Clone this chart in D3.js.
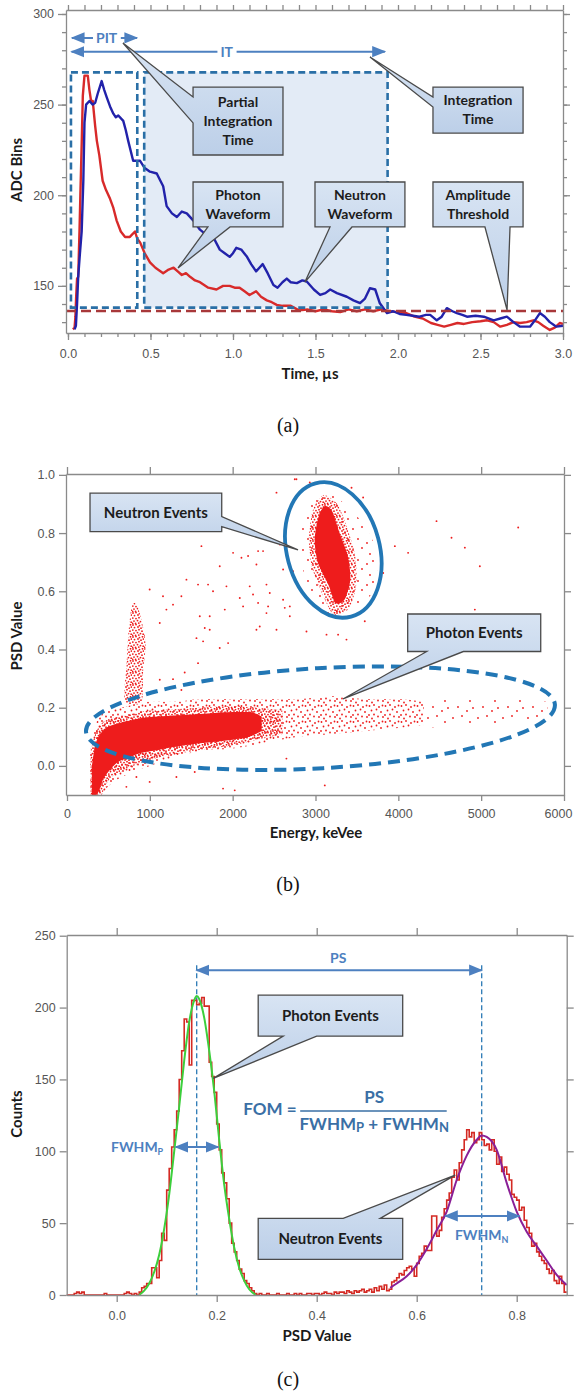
<!DOCTYPE html>
<html>
<head>
<meta charset="utf-8">
<script src="https://cdn.jsdelivr.net/npm/d3@7"></script>
<style>
  body { margin: 0; background: #fff; }
  svg { display: block; }
</style>
</head>
<body>
<svg id="chart" width="575" height="1396"></svg>
<script>
// ---------- (a) digitized waveforms ----------
const photonTime = [0.030,0.040,0.045,0.050,0.055,0.062,0.070,0.075,0.083,0.090,0.100,0.120,0.130,0.140,0.150,0.165,0.175,0.190,0.210,0.230,0.255,0.275,0.295,0.320,0.346,0.375,0.406,0.420,0.437,0.465,0.497,0.530,0.577,0.610,0.640,0.665,0.690,0.715,0.740,0.770,0.800,0.850,0.900,0.940,0.980,1.010,1.040,1.070,1.100,1.140,1.170,1.205,1.235,1.265,1.300,1.350,1.400,1.450,1.500,1.550,1.600,1.650,1.700,1.750,1.800,1.850,1.900,1.950,2.000,2.050,2.100,2.150,2.200,2.240,2.280,2.320,2.360,2.400,2.450,2.500,2.540,2.580,2.620,2.660,2.700,2.740,2.780,2.820,2.850,2.880,2.920,2.950,2.980,3.000];
const photonAdc  = [126,127,133,145,154,155,181,200,228,255,266,266,258,252,252,238,230,222,208,203,198,193,186,180,177,177,180,176,174,168,163,160,157,159,160,158,156,157,155,153,152,149,148,150,150,149,149,147,145,147,144,142,141,139.5,139,139,136.5,137,136,137,136,135.5,137,136,137,136,137,136,135.5,135,133,132,129.5,128.5,127.5,128.5,129.5,129,130,130.5,131,130,127.5,128.5,130,129.5,130,131,130,128,125.7,127,129.5,129];
const neutronTime = [0.040,0.048,0.055,0.062,0.070,0.083,0.093,0.100,0.110,0.130,0.150,0.165,0.180,0.204,0.220,0.235,0.255,0.275,0.290,0.305,0.335,0.350,0.365,0.395,0.420,0.437,0.465,0.497,0.538,0.560,0.577,0.598,0.630,0.660,0.690,0.720,0.760,0.800,0.840,0.880,0.920,0.950,0.980,1.000,1.020,1.050,1.085,1.110,1.140,1.160,1.180,1.210,1.245,1.270,1.300,1.326,1.350,1.387,1.420,1.447,1.490,1.528,1.560,1.589,1.630,1.690,1.730,1.770,1.800,1.830,1.862,1.890,1.933,1.970,2.010,2.050,2.090,2.130,2.170,2.195,2.235,2.265,2.296,2.330,2.357,2.390,2.418,2.470,2.520,2.580,2.620,2.660,2.700,2.740,2.800,2.830,2.860,2.890,2.920,2.960,3.000];
const neutronAdc  = [126,128,140,155,165,180,208,240,250,252,250,251,256,263,258,254,249,245,243,244,241,236,230,219,219,219,215,213,212,208,205,194,190,188,191,190,186,181,178,177,170,168,166,168,171,170,166,162,158,160,162,157,150.5,149,152,154,152,151.5,153,152.4,148,145,146,148,146,144,142,140.5,143,148.7,148,140.4,135,136,134.5,134,133.5,133,134,134,131,133,137.7,136,135,134,133,133.5,133,131,132,133,130,127.5,127.5,131,135,133,130,127.5,128];
const timeMajorTicks = [0, 0.5, 1.0, 1.5, 2.0, 2.5, 3.0];
const adcMajorTicks = [150, 200, 250, 300];

// ---------- (b) PSD vs energy scatter ----------
const energyTicks = [0, 1000, 2000, 3000, 4000, 5000, 6000];
const psdTicksB = [0.0, 0.2, 0.4, 0.6, 0.8, 1.0];
// photon band: outer envelope of scattered events, denser fringe, solid core
const bandEnergy = [280, 330, 400, 500, 650, 800, 1000, 1300, 1600, 2000, 2400, 2800, 3200, 3600, 4000, 4300];
const bandLow    = [-0.10, -0.10, -0.10, -0.07, -0.04, -0.02, 0.00, 0.03, 0.05, 0.06, 0.08, 0.10, 0.11, 0.12, 0.13, 0.14];
const bandHigh   = [0.04, 0.13, 0.17, 0.19, 0.20, 0.21, 0.22, 0.22, 0.23, 0.23, 0.23, 0.23, 0.24, 0.23, 0.23, 0.22];
const tailEnergy = [4300, 4800, 5300, 5800];
const tailLow    = [0.13, 0.14, 0.15, 0.17];
const tailHigh   = [0.23, 0.23, 0.23, 0.22];
const fringeEnergy = [285, 340, 400, 500, 650, 800, 1000, 1300, 1600, 2000, 2300, 2600];
const fringeLow    = [-0.10, -0.10, -0.10, -0.05, -0.02, 0.00, 0.02, 0.04, 0.055, 0.07, 0.09, 0.11];
const fringeHigh   = [0.05, 0.11, 0.14, 0.16, 0.17, 0.18, 0.19, 0.195, 0.20, 0.205, 0.20, 0.19];
const coreEnergy = [300, 340, 380, 430, 500, 600, 750, 900, 1100, 1400, 1700, 2000, 2200, 2350];
const coreLow    = [-0.10, -0.10, -0.09, -0.05, -0.02, 0.01, 0.03, 0.045, 0.055, 0.07, 0.08, 0.09, 0.10, 0.12];
const coreHigh   = [0.00, 0.07, 0.10, 0.12, 0.135, 0.145, 0.155, 0.165, 0.17, 0.175, 0.18, 0.185, 0.185, 0.17];
// low-energy vertical streak
const streakEnergy = [800, 850, 900, 950, 920, 900, 700, 720, 740, 770];
const streakPsd    = [0.56, 0.55, 0.50, 0.42, 0.33, 0.22, 0.22, 0.35, 0.45, 0.53];
// neutron cluster: dense core, speckled ring, sparse halo
const nCoreEnergy = [3112, 3200, 3290, 3390, 3420, 3350, 3240, 3160, 3030, 2990, 3040];
const nCorePsd    = [0.893, 0.876, 0.801, 0.721, 0.640, 0.571, 0.560, 0.620, 0.698, 0.778, 0.859];
const nRingEnergy = [3100, 3260, 3380, 3480, 3490, 3400, 3220, 3100, 2960, 2920, 2970];
const nRingPsd    = [0.93, 0.90, 0.82, 0.72, 0.62, 0.54, 0.52, 0.58, 0.68, 0.78, 0.88];
const nHaloEnergy = [3133, 3495, 3737, 3696, 3414, 3133, 2891, 2810, 2891];
const nHaloPsd    = [0.94, 0.86, 0.74, 0.60, 0.53, 0.52, 0.63, 0.77, 0.88];
// isolated events
const strayEnergy = [1623,1844,2005,2106,2186,2287,2307,2367,2408,2448,2529,2569,2609,2629,2729,2750,1442,1582,1703,1763,1925,2086,2206,2246,2307,2428,1603,1723,1905,2126,2287,1280,1381,1159,998,1200,1120,1723,1563,1643,1945,1663,1844,1582,1421,1120,1280,1381,2327,2408,2529,2690,2770,2931,3435,3575,4461,4642,4803,4984,5447,3958,4118,3817,3595,2891,3133,3273,3374,4924,2690,2609,1321,1884,2025,717,998,838,1542,3112,2649];
const strayPsd    = [0.755,0.686,0.732,0.715,0.721,0.692,0.738,0.738,0.623,0.594,0.939,0.761,0.675,0.543,0.669,0.985,0.640,0.623,0.623,0.600,0.617,0.577,0.617,0.589,0.560,0.548,0.514,0.514,0.537,0.548,0.468,0.554,0.583,0.583,0.606,0.537,0.491,0.468,0.439,0.428,0.422,0.474,0.405,0.353,0.321,0.296,0.298,0.261,0.479,0.525,0.468,0.514,0.985,0.974,0.956,0.922,0.841,0.784,0.750,0.686,0.819,0.755,0.732,0.663,0.497,0.462,0.451,0.451,0.434,0.537,0.548,0.571,-0.038,-0.078,-0.084,-0.072,-0.055,-0.038,-0.021,-0.067,0.025];

// ---------- (c) PSD histogram ----------
const psdTicksC = [0.0, 0.2, 0.4, 0.6, 0.8];
const countTicks = [0, 50, 100, 150, 200, 250];
const histStart = -0.1, histBin = 0.005;
const histCounts = [
  0,0,0,1,2,1,2,0,0,0, 0,0,0,0,0,1,0,0,0,0, 0,0,0,1,2,1,0,1,
  0,2,5,6,8,8,19,19,12,24, 43,38,73,88,103,115,128,150,170,192, 190,160,
  205,205,202,203,207,201,201,162,152,141,119,101,85,78,67,50,36,30,24,18,15,10,8,5,3,1,
  0,1,0,0,1,0,0,0,1,0,0,0,1,0,
  0,1,0,1,0,0,1,1,0,1,
  1,0,1,2,1,1,0,2,1,2,
  2,1,3,2,1,3,2,3,4,2,
  3,4,2,5,3,6,4,7,3,4,
  9,10,12,15,14,17,19,20,18,13, 22,27,29,34,31,31,55,55,41,45, 54,60,66,71,82,87,80,92,101,
  108,115,110,113,106,108,113,108,104,105, 101,108,100,91,96,86,89,84,80,70, 68,66,59,61,52,47,43,34,36,30, 27,24,22,18,15,17,10,8,13,8, 2
];
const photonFitPsd = [0.045,0.055,0.065,0.075,0.085,0.095,0.105,0.115,0.125,0.135,0.145,0.155,0.160,0.165,0.175,0.185,0.195,0.205,0.215,0.225,0.235,0.245,0.255,0.265,0.278];
const photonFitCount = [0,3,8,16,28,46,70,100,131,163,190,205,208,206,193,170,142,108,77,53,33,19,10,4,0];
const neutronFitPsd = [0.547,0.56,0.58,0.60,0.62,0.64,0.66,0.68,0.70,0.72,0.73,0.74,0.76,0.78,0.80,0.82,0.84,0.86,0.88,0.90];
const neutronFitCount = [5,8,13,21,32,45,58,80,97,108,111,110,101,78,58,44,34,24,14,7];

// ---------- shared styling ----------
const FONT = "Lato, 'Open Sans', 'DejaVu Sans', sans-serif";
const TICK_FONT = "'Liberation Sans', Arial, sans-serif";
const AXIS_COLOR = "#8a8a8a";
const NOTE_BLUE = "#4d80c0";
const SCATTER_RED = "#ee1c1c";

const svg = d3.select("#chart");
const defs = svg.append("defs");

const grad = defs.append("linearGradient").attr("id", "calloutFill")
  .attr("x1", 0).attr("y1", 0).attr("x2", 0).attr("y2", 1);
grad.append("stop").attr("offset", "0%").attr("stop-color", "#d8e4f3");
grad.append("stop").attr("offset", "100%").attr("stop-color", "#bccfe8");

defs.append("marker").attr("id", "arrowHead")
  .attr("viewBox", "0 0 10 10").attr("refX", 9).attr("refY", 5)
  .attr("markerWidth", 7).attr("markerHeight", 7).attr("orient", "auto-start-reverse")
  .append("path").attr("d", "M0,1 L10,5 L0,9 z").attr("fill", NOTE_BLUE);

// speckle textures standing in for crowds of single events
function speckle(id, w, h, dots) {
  const p = defs.append("pattern").attr("id", id).attr("patternUnits", "userSpaceOnUse")
    .attr("width", w).attr("height", h);
  dots.forEach(d => p.append("circle").attr("cx", d[0]).attr("cy", d[1]).attr("r", 0.9).attr("fill", SCATTER_RED));
}
speckle("dotsDense", 12, 12, [[1,1],[4,0.6],[7.5,1.6],[10.5,0.8],[2.5,3.6],[6,3],[9,4.2],[11.4,3.1],[0.8,6.1],[4,6.6],[7,5.7],[10,7.2],[2,9.1],[5.5,8.6],[8.5,9.6],[11.2,10.2],[0.6,11.3],[3.6,11.4],[6.8,11.1]]);
speckle("dotsMed", 16, 16, [[1.5,2],[6,1],[11,3],[14.5,1.5],[3.5,6.5],[8.5,5.5],[13,8],[1,11],[6,10.5],[10,12.5],[15,13],[4,14.5]]);
speckle("dotsSparse", 25, 21, [[3,4],[12,2],[20,8],[8,14],[17,18],[23,15]]);

function drawAxis(g, axis, transform, noDomain) {
  const a = g.append("g").attr("transform", transform).call(axis);
  a.selectAll(".domain").attr("stroke", AXIS_COLOR).attr("stroke-width", 1.3);
  a.selectAll(".tick line").attr("stroke", AXIS_COLOR).attr("stroke-width", 1.3);
  a.selectAll(".tick text").attr("fill", "#555").attr("font-family", TICK_FONT).attr("font-size", 12.5);
  if (noDomain) a.select(".domain").remove();
  return a;
}

function axisTitle(g, text, x, y, rotate) {
  g.append("text")
    .attr("transform", `translate(${x},${y})` + (rotate ? " rotate(-90)" : ""))
    .attr("text-anchor", "middle")
    .attr("font-family", FONT).attr("font-weight", "bold").attr("font-size", 15)
    .attr("fill", "#1a1a1a").text(text);
}

function panelLabel(text, y) {
  svg.append("text").attr("x", 288).attr("y", y).attr("text-anchor", "middle")
    .attr("font-family", "'Liberation Serif', 'Times New Roman', serif").attr("font-size", 20)
    .attr("fill", "#111").text(text);
}

// callout box with a wedge pointer, all given in data units
function callout(g, sx, sy, c, fontSize, lineGap) {
  const x0 = sx(c.box[0]), x1 = sx(c.box[1]), y0 = sy(c.box[2]), y1 = sy(c.box[3]);
  const tx = sx(c.tip[0]), ty = sy(c.tip[1]);
  const vertical = c.side === "left" || c.side === "right";
  let b1 = vertical ? sy(c.base[0]) : sx(c.base[0]);
  let b2 = vertical ? sy(c.base[1]) : sx(c.base[1]);
  if (b1 > b2) [b1, b2] = [b2, b1];
  const p = d3.path();
  p.moveTo(x0, y0);
  if (c.side === "top") { p.lineTo(b1, y0); p.lineTo(tx, ty); p.lineTo(b2, y0); }
  p.lineTo(x1, y0);
  if (c.side === "right") { p.lineTo(x1, b1); p.lineTo(tx, ty); p.lineTo(x1, b2); }
  p.lineTo(x1, y1);
  if (c.side === "bottom") { p.lineTo(b2, y1); p.lineTo(tx, ty); p.lineTo(b1, y1); }
  p.lineTo(x0, y1);
  if (c.side === "left") { p.lineTo(x0, b2); p.lineTo(tx, ty); p.lineTo(x0, b1); }
  p.closePath();
  g.append("path").attr("d", p.toString()).attr("fill", "url(#calloutFill)")
    .attr("stroke", "#4a4a4a").attr("stroke-width", 1.3).attr("stroke-linejoin", "miter");
  const cx = (x0 + x1) / 2, cy = (y0 + y1) / 2;
  const t = g.append("text").attr("text-anchor", "middle")
    .attr("font-family", FONT).attr("font-weight", "bold").attr("font-size", fontSize).attr("fill", "#1c1c1c");
  c.lines.forEach((ln, i) => {
    t.append("tspan").attr("x", cx).attr("y", cy + (i - (c.lines.length - 1) / 2) * lineGap)
      .attr("dy", "0.35em").text(ln);
  });
}

function doubleArrow(g, xa, xb, y) {
  g.append("line").attr("x1", xa).attr("x2", xb).attr("y1", y).attr("y2", y)
    .attr("stroke", NOTE_BLUE).attr("stroke-width", 2)
    .attr("marker-start", "url(#arrowHead)").attr("marker-end", "url(#arrowHead)");
}

// =====================================================================
// (a) waveforms
// =====================================================================
const xA = d3.scaleLinear([-0.012, 3.0], [66, 563]);
const yA = d3.scaleLinear([124, 302.2], [333, 10]);
const gA = svg.append("g");

const pitSpan = [0.018, 0.42], itSpan = [0.462, 1.937], gateAdc = [267.8, 138];
const thresholdAdc = 136.1;

gA.append("rect").attr("x", xA(itSpan[0])).attr("y", yA(gateAdc[0]))
  .attr("width", xA(itSpan[1]) - xA(itSpan[0])).attr("height", yA(gateAdc[1]) - yA(gateAdc[0]))
  .attr("fill", "#e3ebf6");

const waveLine = (ts, vs) => d3.line().x((d, i) => xA(ts[i])).y(d => yA(d))(vs);
gA.append("path").attr("d", waveLine(photonTime, photonAdc)).attr("fill", "none")
  .attr("stroke", "#d82a2a").attr("stroke-width", 2.4).attr("stroke-linejoin", "round");
gA.append("path").attr("d", waveLine(neutronTime, neutronAdc)).attr("fill", "none")
  .attr("stroke", "#2222aa").attr("stroke-width", 2.4).attr("stroke-linejoin", "round");

[pitSpan, itSpan].forEach(s => {
  gA.append("rect").attr("x", xA(s[0])).attr("y", yA(gateAdc[0]))
    .attr("width", xA(s[1]) - xA(s[0])).attr("height", yA(gateAdc[1]) - yA(gateAdc[0]))
    .attr("fill", "none").attr("stroke", "#2a6fa6").attr("stroke-width", 2.6)
    .attr("stroke-dasharray", "7,4");
});
gA.append("line").attr("x1", xA.range()[0]).attr("x2", xA.range()[1])
  .attr("y1", yA(thresholdAdc)).attr("y2", yA(thresholdAdc))
  .attr("stroke", "#a8383a").attr("stroke-width", 2.4).attr("stroke-dasharray", "10,5");

// PIT / IT spans
function spanLabel(label, span, adc, labelAt) {
  doubleArrow(gA, xA(span[0]), xA(span[1]), yA(adc));
  const t = gA.append("text").attr("x", xA(labelAt)).attr("y", yA(adc)).attr("dy", "0.36em")
    .attr("text-anchor", "middle").attr("font-family", FONT).attr("font-weight", "bold")
    .attr("font-size", 14).attr("fill", NOTE_BLUE).text(label);
  const bb = t.node().getBBox();
  gA.insert("rect", "text:last-of-type").attr("x", bb.x - 3).attr("y", bb.y).attr("width", bb.width + 6)
    .attr("height", bb.height).attr("fill", "#fff");
}
spanLabel("PIT", [0.024, 0.418], 286.8, 0.234);
spanLabel("IT", [0.022, 1.92], 279.2, 0.962);

drawAxis(gA, d3.axisLeft(yA).tickValues(d3.range(130, 301, 10)).tickSize(4).tickFormat(""), "translate(66,0)", true);
drawAxis(gA, d3.axisLeft(yA).tickValues(adcMajorTicks).tickSize(8).tickPadding(4).tickSizeOuter(0), "translate(66,0)");
drawAxis(gA, d3.axisBottom(xA).tickValues(d3.range(0, 3.01, 0.1)).tickSize(4).tickFormat(""), "translate(0,333)", true);
drawAxis(gA, d3.axisBottom(xA).tickValues(timeMajorTicks).tickSize(7).tickPadding(9)
  .tickFormat(d3.format(".1f")).tickSizeOuter(0), "translate(0,333)");
drawAxis(gA, d3.axisTop(xA).tickValues(d3.range(0, 3.01, 0.1)).tickSize(5).tickFormat("").tickSizeOuter(0), "translate(0,10)");
drawAxis(gA, d3.axisRight(yA).tickValues(d3.range(130, 301, 10)).tickSize(4).tickFormat("").tickSizeOuter(0), "translate(563,0)");
drawAxis(gA, d3.axisRight(yA).tickValues(adcMajorTicks).tickSize(7).tickFormat(""), "translate(563,0)", true);

axisTitle(gA, "ADC Bins", 22, 170, true);
axisTitle(gA, "Time, \u00b5s", 310, 379, false);

const calloutsA = [
  { lines: ["Partial", "Integration", "Time"], box: [0.758, 1.303, 259.7, 222.2], side: "left", base: [254.2, 239.9], tip: [0.333, 284] },
  { lines: ["Integration", "Time"], box: [2.212, 2.758, 259.7, 234.3], side: "left", base: [254.2, 248.7], tip: [1.83, 276.3] },
  { lines: ["Photon", "Waveform"], box: [0.758, 1.303, 207.3, 182.5], side: "bottom", base: [0.848, 0.982], tip: [0.667, 159.9] },
  { lines: ["Neutron", "Waveform"], box: [1.497, 2.042, 207.3, 182.5], side: "bottom", base: [1.588, 1.721], tip: [1.436, 152.1] },
  { lines: ["Amplitude", "Threshold"], box: [2.212, 2.758, 207.3, 182.5], side: "bottom", base: [2.527, 2.679], tip: [2.661, 136.7] }
];
calloutsA.forEach(c => callout(gA, xA, yA, c, 14, 19));
panelLabel("(a)", 432);

// =====================================================================
// (b) PSD vs energy
// =====================================================================
const xB = d3.scaleLinear([-12, 6000], [66, 564]);
const yB = d3.scaleLinear([-0.1, 1.003], [795, 474]);
const gB = svg.append("g");

const band = (es, lo, hi) => d3.area().curve(d3.curveMonotoneX)
  .x((d, i) => xB(es[i])).y0((d, i) => yB(lo[i])).y1((d, i) => yB(hi[i]))(es);
const blob = (es, ps) => d3.line().curve(d3.curveCardinalClosed.tension(0.2))
  .x((d, i) => xB(es[i])).y((d, i) => yB(ps[i]))(es);

gB.append("path").attr("d", band(tailEnergy, tailLow, tailHigh)).attr("fill", "url(#dotsSparse)");
gB.append("path").attr("d", band(bandEnergy, bandLow, bandHigh)).attr("fill", "url(#dotsMed)");
gB.append("path").attr("d", band(fringeEnergy, fringeLow, fringeHigh)).attr("fill", "url(#dotsDense)");
gB.append("path").attr("d", band(coreEnergy, coreLow, coreHigh)).attr("fill", SCATTER_RED);
gB.append("path").attr("d", blob(streakEnergy, streakPsd)).attr("fill", "url(#dotsDense)");
gB.append("path").attr("d", blob(nHaloEnergy, nHaloPsd)).attr("fill", "url(#dotsSparse)");
gB.append("path").attr("d", blob(nRingEnergy, nRingPsd)).attr("fill", "url(#dotsDense)");
gB.append("path").attr("d", blob(nCoreEnergy, nCorePsd)).attr("fill", SCATTER_RED);

gB.selectAll("circle.stray").data(strayEnergy).join("circle").attr("class", "stray")
  .attr("cx", d => xB(d)).attr("cy", (d, i) => yB(strayPsd[i])).attr("r", 0.95).attr("fill", SCATTER_RED);

// selection ellipses
const neutronRing = { e: 3215, psd: 0.742, de: 560, dpsd: 0.237, rot: -15 };
const photonRing = { e: 3060, psd: 0.164, de: 2835, dpsd: 0.172, rot: -3.3 };
gB.append("ellipse").attr("transform", `translate(${xB(neutronRing.e)},${yB(neutronRing.psd)}) rotate(${neutronRing.rot})`)
  .attr("rx", xB(neutronRing.de) - xB(0)).attr("ry", yB(0) - yB(neutronRing.dpsd))
  .attr("fill", "none").attr("stroke", "#2277b5").attr("stroke-width", 3.8);
gB.append("ellipse").attr("transform", `translate(${xB(photonRing.e)},${yB(photonRing.psd)}) rotate(${photonRing.rot})`)
  .attr("rx", xB(photonRing.de) - xB(0)).attr("ry", yB(0) - yB(photonRing.dpsd))
  .attr("fill", "none").attr("stroke", "#2277b5").attr("stroke-width", 4).attr("stroke-dasharray", "12,7");

drawAxis(gB, d3.axisLeft(yB).tickValues(psdTicksB).tickSize(7).tickPadding(4).tickFormat(d3.format(".1f")).tickSizeOuter(0), "translate(66,0)");
const energyAxis = drawAxis(gB, d3.axisBottom(xB).tickValues(energyTicks).tickSize(6).tickPadding(8).tickFormat(d3.format("d")).tickSizeOuter(0), "translate(0,795)");
// keep the last label inside the page
energyAxis.selectAll(".tick text").filter(d => d === 6000).attr("dx", -6);
drawAxis(gB, d3.axisTop(xB).tickValues(energyTicks).tickSize(7).tickFormat("").tickSizeOuter(0), "translate(0,474)");
drawAxis(gB, d3.axisRight(yB).tickValues(psdTicksB).tickSize(7).tickFormat("").tickSizeOuter(0), "translate(564,0)");

axisTitle(gB, "PSD Value", 22, 636, true);
axisTitle(gB, "Energy, keVee", 316, 838, false);

const calloutsB = [
  { lines: ["Neutron Events"], box: [278, 1868, 0.937, 0.805], side: "right", base: [0.857, 0.822], tip: [2789, 0.742] },
  { lines: ["Photon Events"], box: [4113, 5719, 0.522, 0.393], side: "bottom", base: [4343, 4785], tip: [3332, 0.23] }
];
calloutsB.forEach(c => callout(gB, xB, yB, c, 15, 19));
panelLabel("(b)", 891);

// =====================================================================
// (c) PSD histogram
// =====================================================================
const xC = d3.scaleLinear([-0.1, 0.9], [66.7, 566.7]);
const yC = d3.scaleLinear([0, 250.5], [1295, 935]);
const gC = svg.append("g");

const photonPeak = 0.16, neutronPeak = 0.73, psLevel = 226;
[photonPeak, neutronPeak].forEach(p => {
  gC.append("line").attr("x1", xC(p)).attr("x2", xC(p)).attr("y1", yC(229.5)).attr("y2", yC(0))
    .attr("stroke", "#2b7ab5").attr("stroke-width", 1.3).attr("stroke-dasharray", "5,3");
});

const histPoints = histCounts.map((c, i) => [histStart + i * histBin, c]);
histPoints.push([histStart + histCounts.length * histBin, histCounts[histCounts.length - 1]]);
gC.append("path").attr("d", d3.line().curve(d3.curveStepAfter).x(d => xC(d[0])).y(d => yC(d[1]))(histPoints))
  .attr("fill", "none").attr("stroke", "#d42a24").attr("stroke-width", 1.6);

const fitLine = (xs, ys) => d3.line().curve(d3.curveMonotoneX).x((d, i) => xC(xs[i])).y(d => yC(d))(ys);
gC.append("path").attr("d", fitLine(photonFitPsd, photonFitCount)).attr("fill", "none")
  .attr("stroke", "#3ccf3c").attr("stroke-width", 2);
gC.append("path").attr("d", fitLine(neutronFitPsd, neutronFitCount)).attr("fill", "none")
  .attr("stroke", "#8a1f96").attr("stroke-width", 2);

// PS and FWHM spans
doubleArrow(gC, xC(photonPeak), xC(neutronPeak), yC(psLevel));
gC.append("text").attr("x", xC(0.443)).attr("y", yC(psLevel) - 7).attr("text-anchor", "middle")
  .attr("font-family", FONT).attr("font-weight", "bold").attr("font-size", 14).attr("fill", NOTE_BLUE).text("PS");
doubleArrow(gC, xC(0.118), xC(0.203), yC(103));
doubleArrow(gC, xC(0.657), xC(0.805), yC(55));

function fwhmText(x, y, anchor, sub) {
  const t = gC.append("text").attr("x", x).attr("y", y).attr("text-anchor", anchor)
    .attr("font-family", FONT).attr("font-weight", "bold").attr("font-size", 14).attr("fill", NOTE_BLUE);
  t.append("tspan").text("FWHM");
  t.append("tspan").attr("font-size", 9).attr("dy", 3).text(sub);
}
fwhmText(xC(0.093), yC(103) + 5, "end", "P");
fwhmText(xC(0.73), yC(38), "middle", "N");

// figure of merit
const FOM_BLUE = "#3a6fa5";
gC.append("text").attr("x", xC(0.253)).attr("y", yC(125)).attr("font-family", FONT)
  .attr("font-weight", "bold").attr("font-size", 17).attr("fill", FOM_BLUE).text("FOM =");
gC.append("line").attr("x1", xC(0.367)).attr("x2", xC(0.66)).attr("y1", yC(128)).attr("y2", yC(128))
  .attr("stroke", FOM_BLUE).attr("stroke-width", 1.5);
gC.append("text").attr("x", xC(0.515)).attr("y", yC(133.7)).attr("text-anchor", "middle")
  .attr("font-family", FONT).attr("font-weight", "bold").attr("font-size", 17).attr("fill", FOM_BLUE).text("PS");
const den = gC.append("text").attr("x", xC(0.515)).attr("y", yC(114.7)).attr("text-anchor", "middle")
  .attr("font-family", FONT).attr("font-weight", "bold").attr("font-size", 17).attr("fill", FOM_BLUE);
den.append("tspan").text("FWHM");
den.append("tspan").attr("font-size", 13).attr("dy", 2).text("P");
den.append("tspan").attr("dy", -2).text(" + FWHM");
den.append("tspan").attr("font-size", 13).attr("dy", 2).text("N");

drawAxis(gC, d3.axisLeft(yC).tickValues(countTicks).tickSize(7).tickPadding(4).tickSizeOuter(0), "translate(66.7,0)");
drawAxis(gC, d3.axisBottom(xC).tickValues(psdTicksC).tickSize(7).tickPadding(9).tickFormat(d3.format(".1f")).tickSizeOuter(0), "translate(0,1295)");
drawAxis(gC, d3.axisTop(xC).tickValues(psdTicksC).tickSize(7).tickFormat("").tickSizeOuter(0), "translate(0,935)");
drawAxis(gC, d3.axisRight(yC).tickValues(countTicks).tickSize(7).tickFormat("").tickSizeOuter(0), "translate(566.7,0)");

axisTitle(gC, "Counts", 22, 1114, true);
axisTitle(gC, "PSD Value", 317, 1341, false);

const calloutsC = [
  { lines: ["Photon Events"], box: [0.283, 0.572, 208.6, 180.1], side: "bottom", base: [0.333, 0.4], tip: [0.193, 150.7] },
  { lines: ["Neutron Events"], box: [0.283, 0.572, 53.3, 24.8], side: "top", base: [0.453, 0.527], tip: [0.677, 83.4] }
];
calloutsC.forEach(c => callout(gC, xC, yC, c, 15, 19));
panelLabel("(c)", 1386);
</script>
</body>
</html>
